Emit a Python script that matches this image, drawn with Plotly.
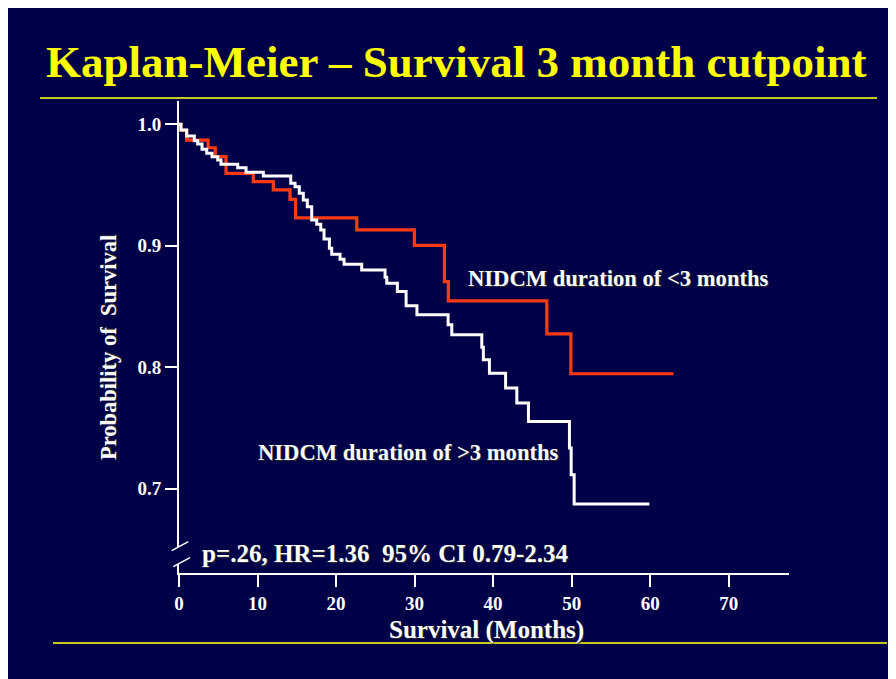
import plotly.graph_objects as go

# ---- data ----
lt3_months = [0, 0.25, 0.98, 3.7, 4.62, 5.99, 9.46, 12.01, 14.14, 14.84, 22.64, 29.97, 33.8, 34.3, 46.84, 49.9, 62.97]
lt3_surv = [1.0, 0.995, 0.987, 0.9807, 0.9734, 0.9597, 0.9528, 0.946, 0.9382, 0.923, 0.9131, 0.9003, 0.8706, 0.8547, 0.8276, 0.7947, 0.7947]

gt3_months = [0, 0.25, 0.98, 1.95, 2.38, 2.93, 3.53, 4.2, 4.93, 5.35, 7.48, 8.54, 10.74, 14.23, 14.78, 15.32,
              15.83, 16.34, 16.9, 17.54, 18.05, 18.47, 19.15, 19.45, 20.51, 21.02, 23.27, 26.24, 26.46, 27.81,
              28.92, 30.3, 34.27, 34.74, 38.56, 38.76, 39.53, 41.59, 43.02, 44.5, 49.72, 49.94, 50.32, 59.9]
gt3_surv = [1.0, 0.9953, 0.9904, 0.9865, 0.9838, 0.9794, 0.9762, 0.9734, 0.9706, 0.9671, 0.9643, 0.9605, 0.9575,
            0.9515, 0.9487, 0.9433, 0.9377, 0.9322, 0.9213, 0.9178, 0.9131, 0.9057, 0.898, 0.8931, 0.889, 0.8849,
            0.8802, 0.8742, 0.8692, 0.8623, 0.8506, 0.8432, 0.835, 0.8267, 0.8166, 0.8062, 0.7952, 0.7829, 0.7706,
            0.7554, 0.7336, 0.7116, 0.6875, 0.6875]

x_ticks = [0, 10, 20, 30, 40, 50, 60, 70]
y_ticks = [1.0, 0.9, 0.8, 0.7]
y_tick_labels = ["1.0", "0.9", "0.8", "0.7"]

title_text = "Kaplan-Meier – Survival 3 month cutpoint"
label_lt3 = "NIDCM duration of &lt;3 months"
label_gt3 = "NIDCM duration of &gt;3 months"
stats_text = "p=.26, HR=1.36 \u00a095% CI 0.79-2.34"

# ---- layout geometry (page offset of 8px from body margin) ----
OFF = 8
W, H = 881, 671
L, R, T, B = 171, 100, 93, 106
NAVY = "#000048"
SERIF = "Liberation Serif"


def px2x(px):
    return (px - OFF - L) / (W - L - R)


def py2y(py):
    return (H - B - (py - OFF)) / (H - T - B)


fig = go.Figure()
fig.add_trace(go.Scatter(x=lt3_months, y=lt3_surv, mode="lines", line=dict(shape="hv", color="#ff3a12", width=3.2),
                         name="<3 months", showlegend=False))
fig.add_trace(go.Scatter(x=gt3_months, y=gt3_surv, mode="lines", line=dict(shape="hv", color="#ffffff", width=3),
                         name=">3 months", showlegend=False))

axis_font = dict(family=SERIF, size=19, color="white", weight="bold")
fig.update_xaxes(range=[0, 77.68], tickvals=x_ticks, ticks="outside", ticklen=12, tickwidth=2, tickcolor="white",
                 showline=True, linecolor="white", linewidth=2, showgrid=False, zeroline=False,
                 tickfont=axis_font)
fig.update_yaxes(range=[0.6307, 1.0192], tickvals=y_ticks, ticktext=y_tick_labels, ticks="outside", ticklen=12,
                 tickwidth=2, tickcolor="white", showline=True, linecolor="white", linewidth=2, showgrid=False,
                 zeroline=False, tickfont=axis_font)

shapes = [
    # yellow rules
    dict(type="line", xref="paper", yref="paper", x0=px2x(40), x1=px2x(877), y0=py2y(98), y1=py2y(98),
         line=dict(color="#c8c820", width=2)),
    dict(type="line", xref="paper", yref="paper", x0=px2x(53), x1=px2x(887), y0=py2y(643), y1=py2y(643),
         line=dict(color="#c8c820", width=2)),
    # axis break
    dict(type="path", xref="paper", yref="paper",
         path=f"M {px2x(171.7)} {py2y(550.7)} L {px2x(188.3)} {py2y(541.7)} L {px2x(190)} {py2y(557.7)} "
              f"L {px2x(173.3)} {py2y(566.7)} Z",
         fillcolor=NAVY, line=dict(width=0)),
    dict(type="line", xref="paper", yref="paper", x0=px2x(171.7), y0=py2y(550.7), x1=px2x(188.3), y1=py2y(541.7),
         line=dict(color="white", width=1.5)),
    dict(type="line", xref="paper", yref="paper", x0=px2x(173.3), y0=py2y(566.7), x1=px2x(190), y1=py2y(557.7),
         line=dict(color="white", width=1.5)),
]

shadow = "1px 1px 1px #333"
annotations = [
    dict(text=title_text, xref="paper", yref="paper", x=px2x(456), y=py2y(62), xanchor="center", yanchor="middle",
         showarrow=False, font=dict(family=SERIF, size=45, color="#ffff00", weight="bold")),
    dict(text="Probability of \u00a0Survival", xref="paper", yref="paper", x=px2x(108), y=py2y(348),
         xanchor="center", yanchor="middle", textangle=-90, showarrow=False,
         font=dict(family=SERIF, size=22.5, color="white", weight="bold", shadow=shadow)),
    dict(text="Survival (Months)", xref="paper", yref="paper", x=px2x(486), y=py2y(630), xanchor="center",
         yanchor="middle", showarrow=False, font=dict(family=SERIF, size=25, color="white", weight="bold", shadow=shadow)),
    dict(text=label_lt3, xref="paper", yref="paper", x=px2x(466), y=py2y(278), xanchor="left", yanchor="middle",
         showarrow=False, font=dict(family=SERIF, size=22.6, color="white", weight="bold", shadow=shadow)),
    dict(text=label_gt3, xref="paper", yref="paper", x=px2x(256), y=py2y(452), xanchor="left", yanchor="middle",
         showarrow=False, font=dict(family=SERIF, size=22.6, color="white", weight="bold", shadow=shadow)),
    dict(text=stats_text, xref="paper", yref="paper", x=px2x(200), y=py2y(553), xanchor="left", yanchor="middle",
         showarrow=False, font=dict(family=SERIF, size=25, color="white", weight="bold", shadow=shadow)),
]

fig.update_layout(width=W, height=H, margin=dict(l=L, r=R, t=T, b=B, pad=0), paper_bgcolor=NAVY,
                  plot_bgcolor="rgba(0,0,0,0)", shapes=shapes, annotations=annotations, showlegend=False)

fig.write_html("out.html")
